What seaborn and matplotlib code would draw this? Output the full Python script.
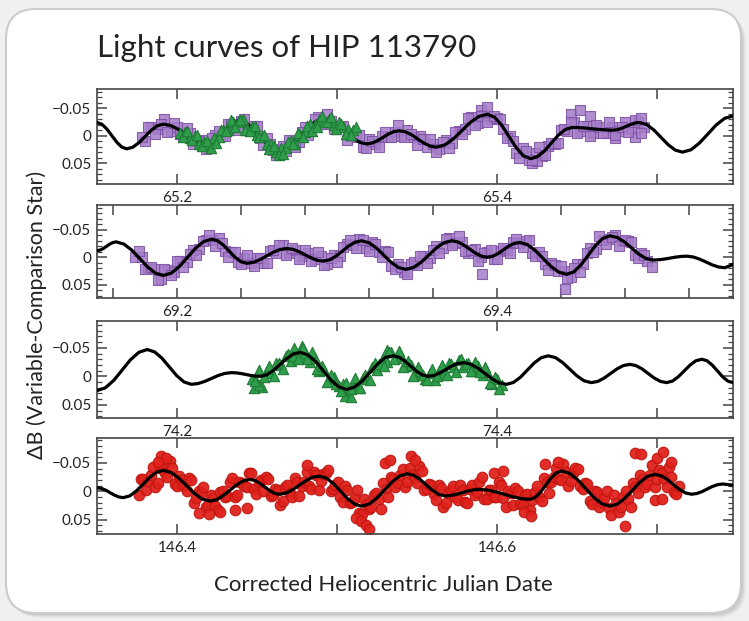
import matplotlib
matplotlib.use("Agg")
import pandas as pd
import matplotlib.pyplot as plt
from matplotlib.patches import FancyBboxPatch
from matplotlib.transforms import IdentityTransform
from matplotlib.ticker import MultipleLocator
import seaborn as sns

# ---------------------------------------------------------------- model fits
fit1_t = [65.150, 65.1531, 65.1562, 65.1593, 65.1624, 65.1655, 65.1686,
          65.1724, 65.1762, 65.1801, 65.1839, 65.1877, 65.1915,
          65.1960, 65.2005, 65.2051, 65.2096, 65.2141, 65.2186,
          65.2220, 65.2254, 65.2288, 65.2322, 65.2356, 65.239,
          65.2432, 65.2473, 65.2515, 65.2557, 65.2598, 65.264,
          65.2686, 65.2732, 65.2778, 65.2823, 65.2869, 65.2915,
          65.2960, 65.3005, 65.3051, 65.3096, 65.3141, 65.3186,
          65.3220, 65.3254, 65.3288, 65.3322, 65.3356, 65.339,
          65.3428, 65.3467, 65.3505, 65.3543, 65.3582, 65.362,
          65.3673, 65.3727, 65.3780, 65.3833, 65.3887, 65.394,
          65.3985, 65.4030, 65.4075, 65.4120, 65.4165, 65.421,
          65.4253, 65.4297, 65.4340, 65.4383, 65.4427, 65.447,
          65.4512, 65.4555, 65.4597, 65.4640, 65.4683, 65.4725,
          65.4752, 65.4780, 65.4808, 65.4835, 65.4863, 65.489,
          65.4935, 65.4980, 65.5025, 65.5070, 65.5115, 65.516,
          65.5213, 65.5265, 65.5318, 65.5370, 65.5423, 65.5475]
fit1_db = [-0.024, -0.0208, -0.012, 0.000, 0.012, 0.0208, 0.024,
           0.021, 0.0128, 0.0015, -0.0098, -0.018, -0.021,
           -0.0186, -0.012, -0.003, 0.006, 0.0126, 0.015,
           0.0122, 0.0045, -0.006, -0.0165, -0.0242, -0.027,
           -0.0234, -0.0135, 0.000, 0.0135, 0.0234, 0.027,
           0.0232, 0.0128, -0.0015, -0.0158, -0.0262, -0.030,
           -0.027, -0.0188, -0.0075, 0.0038, 0.012, 0.015,
           0.0134, 0.009, 0.003, -0.003, -0.0074, -0.009,
           -0.007, -0.0015, 0.006, 0.0135, 0.019, 0.021,
           0.017, 0.006, -0.009, -0.024, -0.035, -0.039,
           -0.0336, -0.0188, 0.0015, 0.0218, 0.0366, 0.042,
           0.0382, 0.0278, 0.0135, -0.0008, -0.0112, -0.015,
           -0.0147, -0.0138, -0.0125, -0.0113, -0.0103, -0.010,
           -0.0109, -0.0135, -0.017, -0.0205, -0.0231, -0.024,
           -0.0204, -0.0105, 0.003, 0.0165, 0.0264, 0.030,
           0.0256, 0.0135, -0.003, -0.0195, -0.0316, -0.036]

fit2_t = [69.150, 69.152, 69.154, 69.156, 69.158, 69.160, 69.162,
          69.1669, 69.1718, 69.1768, 69.1817, 69.1866, 69.1915,
          69.1965, 69.2016, 69.2066, 69.2116, 69.2167, 69.2217,
          69.2254, 69.2290, 69.2327, 69.2363, 69.2400, 69.2436,
          69.2478, 69.2519, 69.2561, 69.2603, 69.2644, 69.2686,
          69.2724, 69.2762, 69.2801, 69.2839, 69.2877, 69.2915,
          69.2955, 69.2995, 69.3035, 69.3074, 69.3114, 69.3154,
          69.3200, 69.3246, 69.3292, 69.3338, 69.3384, 69.343,
          69.3478, 69.3526, 69.3574, 69.3621, 69.3669, 69.3717,
          69.3754, 69.3791, 69.3829, 69.3866, 69.3903, 69.394,
          69.3973, 69.4007, 69.4040, 69.4073, 69.4107, 69.414,
          69.4189, 69.4239, 69.4288, 69.4337, 69.4387, 69.4436,
          69.4481, 69.4526, 69.4571, 69.4616, 69.4661, 69.4706,
          69.4751, 69.4796, 69.4841, 69.4885, 69.4930, 69.4975,
          69.5010, 69.5045, 69.5081, 69.5116, 69.5151, 69.5186,
          69.5226, 69.5266, 69.5306, 69.5345, 69.5385, 69.5425,
          69.5475]
fit2_db = [-0.012, -0.0131, -0.016, -0.020, -0.024, -0.0269, -0.028,
           -0.0239, -0.0128, 0.0025, 0.0178, 0.0289, 0.033,
           0.0286, 0.0165, 0.000, -0.0165, -0.0286, -0.033,
           -0.0301, -0.022, -0.011, 0.000, 0.0081, 0.011,
           0.0092, 0.0043, -0.0025, -0.0093, -0.0142, -0.016,
           -0.0145, -0.0103, -0.0045, 0.0013, 0.0055, 0.007,
           0.0045, -0.0023, -0.0115, -0.0208, -0.0275, -0.030,
           -0.0265, -0.017, -0.004, 0.009, 0.0185, 0.022,
           0.0185, 0.009, -0.004, -0.017, -0.0265, -0.030,
           -0.028, -0.0225, -0.015, -0.0075, -0.002, 0.000,
           -0.0018, -0.0068, -0.0135, -0.0203, -0.0252, -0.027,
           -0.0231, -0.0125, 0.002, 0.0165, 0.0271, 0.031,
           0.0263, 0.0135, -0.004, -0.0215, -0.0343, -0.039,
           -0.0361, -0.028, -0.017, -0.006, 0.0021, 0.005,
           0.0045, 0.0033, 0.0015, -0.0003, -0.0015, -0.002,
           -0.0006, 0.0033, 0.0085, 0.0138, 0.0176, 0.019,
           0.013]

fit3_t = [74.150, 74.1552, 74.1605, 74.1657, 74.1709, 74.1762, 74.1814,
          74.1860, 74.1906, 74.1952, 74.1998, 74.2044, 74.209,
          74.2132, 74.2173, 74.2215, 74.2257, 74.2298, 74.234,
          74.237, 74.240, 74.243, 74.246, 74.249, 74.252,
          74.2562, 74.2603, 74.2645, 74.2687, 74.2728, 74.277,
          74.2818, 74.2867, 74.2915, 74.2963, 74.3012, 74.306,
          74.3108, 74.3157, 74.3205, 74.3253, 74.3302, 74.335,
          74.3387, 74.3423, 74.3460, 74.3497, 74.3533, 74.357,
          74.3607, 74.3643, 74.3680, 74.3717, 74.3753, 74.379,
          74.3835, 74.3880, 74.3925, 74.3970, 74.4015, 74.406,
          74.4103, 74.4147, 74.4190, 74.4233, 74.4277, 74.432,
          74.4365, 74.4410, 74.4455, 74.4500, 74.4545, 74.459,
          74.463, 74.467, 74.471, 74.475, 74.479, 74.483,
          74.4868, 74.4907, 74.4945, 74.4983, 74.5022, 74.506,
          74.5097, 74.5133, 74.5170, 74.5207, 74.5243, 74.528,
          74.5313, 74.5345, 74.5378, 74.5410, 74.5443, 74.5475]
fit3_db = [0.025, 0.0202, 0.007, -0.011, -0.029, -0.0422, -0.047,
           -0.0429, -0.0318, -0.0165, -0.0013, 0.0099, 0.014,
           0.0126, 0.0089, 0.0038, -0.0014, -0.0051, -0.0065,
           -0.0061, -0.0049, -0.0033, -0.0016, -0.0004, 0.000,
           -0.0028, -0.0105, -0.021, -0.0315, -0.0392, -0.042,
           -0.0376, -0.0258, -0.0095, 0.0068, 0.0186, 0.023,
           0.019, 0.0083, -0.0065, -0.0213, -0.033, -0.036,
           -0.0336, -0.027, -0.018, -0.009, -0.0024, 0.000,
           -0.0016, -0.006, -0.012, -0.018, -0.0224, -0.024,
           -0.0215, -0.0145, -0.005, 0.0045, 0.0115, 0.014,
           0.0107, 0.0015, -0.011, -0.0235, -0.0327, -0.036,
           -0.0329, -0.0243, -0.0125, -0.0008, 0.0079, 0.011,
           0.0089, 0.003, -0.005, -0.013, -0.0189, -0.021,
           -0.0189, -0.013, -0.005, 0.003, 0.0089, 0.011,
           0.0083, 0.0008, -0.0095, -0.0198, -0.0273, -0.030,
           -0.0273, -0.0198, -0.0095, 0.0008, 0.0083, 0.011]

fit4_t = [146.350, 146.3527, 146.3555, 146.3582, 146.3609, 146.3637, 146.3664,
          146.3706, 146.3747, 146.3789, 146.3831, 146.3872, 146.3914,
          146.3963, 146.4011, 146.4060, 146.4109, 146.4157, 146.4206,
          146.4248, 146.4289, 146.4331, 146.4373, 146.4414, 146.4456,
          146.4487, 146.4517, 146.4548, 146.4579, 146.4609, 146.464,
          146.4682, 146.4723, 146.4765, 146.4807, 146.4848, 146.489,
          146.4934, 146.4978, 146.5022, 146.5066, 146.5110, 146.5154,
          146.5202, 146.5249, 146.5297, 146.5345, 146.5392, 146.544,
          146.5479, 146.5518, 146.5558, 146.5597, 146.5636, 146.5675,
          146.5711, 146.5747, 146.5783, 146.5818, 146.5854, 146.589,
          146.5943, 146.5995, 146.6048, 146.6101, 146.6153, 146.6206,
          146.6239, 146.6272, 146.6305, 146.6338, 146.6371, 146.6404,
          146.6454, 146.6505, 146.6555, 146.6605, 146.6656, 146.6706,
          146.6753, 146.6799, 146.6846, 146.6893, 146.6939, 146.6986,
          146.7024, 146.7063, 146.7101, 146.7139, 146.7178, 146.7216,
          146.7248, 146.7281, 146.7313, 146.7345, 146.7378, 146.741,
          146.7475]
fit4_db = [-0.0065, -0.0053, -0.0021, 0.0023, 0.0066, 0.0098, 0.011,
           0.0078, -0.001, -0.013, -0.025, -0.0338, -0.037,
           -0.0334, -0.0235, -0.010, 0.0035, 0.0134, 0.017,
           0.0145, 0.0075, -0.002, -0.0115, -0.0185, -0.021,
           -0.0193, -0.0145, -0.008, -0.0015, 0.0033, 0.005,
           0.0029, -0.003, -0.011, -0.019, -0.0249, -0.027,
           -0.0234, -0.0138, -0.0005, 0.0128, 0.0224, 0.026,
           0.0222, 0.0118, -0.0025, -0.0168, -0.0272, -0.031,
           -0.0284, -0.0213, -0.0115, -0.0018, 0.0054, 0.008,
           0.0072, 0.0051, 0.0023, -0.0006, -0.0027, -0.0035,
           -0.0023, 0.0009, 0.0053, 0.0096, 0.0128, 0.014,
           0.0107, 0.0015, -0.011, -0.0235, -0.0327, -0.036,
           -0.0318, -0.0205, -0.005, 0.0105, 0.0218, 0.026,
           0.0222, 0.012, -0.002, -0.016, -0.0262, -0.030,
           -0.0277, -0.0213, -0.0125, -0.0038, 0.0027, 0.005,
           0.0038, 0.0005, -0.004, -0.0085, -0.0118, -0.013,
           -0.011]

# ---------------------------------------------------------- observations
purple1_t = [65.180, 65.184, 65.188, 65.192, 65.196, 65.200, 65.204, 65.208, 65.212, 65.216,
             65.220, 65.224, 65.228, 65.232, 65.236, 65.240, 65.244, 65.248, 65.252, 65.256,
             65.260, 65.264, 65.268, 65.272, 65.276, 65.280, 65.284, 65.288, 65.292, 65.296,
             65.300, 65.304, 65.308, 65.312, 65.316, 65.320, 65.324, 65.328, 65.332, 65.336,
             65.340, 65.344, 65.348, 65.352, 65.356, 65.360, 65.364, 65.368, 65.372, 65.376,
             65.380, 65.384, 65.388, 65.392, 65.396, 65.400, 65.404, 65.408, 65.412, 65.416,
             65.420, 65.424, 65.428, 65.432, 65.436, 65.440, 65.444, 65.448, 65.452, 65.456,
             65.460, 65.464, 65.468, 65.472, 65.476, 65.480, 65.484, 65.488, 65.492,
             65.390, 65.394, 65.422, 65.425, 65.446, 65.452, 65.458, 65.474, 65.486, 65.490, 65.178]
purple1_db = [0.009, -0.016, -0.013, -0.030, -0.009, -0.015, 0.000, -0.004, 0.009, 0.008,
              0.022, -0.001, 0.001, -0.021, -0.016, -0.026, -0.011, -0.017, 0.004, 0.005,
              0.026, 0.024, 0.028, 0.010, 0.011, -0.015, -0.015, -0.034, -0.021, -0.026,
              -0.015, -0.017, 0.001, 0.003, 0.021, 0.006, 0.015, 0.000, 0.003, -0.007,
              0.000, -0.010, 0.003, 0.000, 0.020, 0.016, 0.025, 0.008, 0.014, -0.009,
              -0.012, -0.034, -0.023, -0.038, -0.030, -0.033, -0.013, 0.000, 0.031, 0.023,
              0.044, 0.032, 0.037, 0.019, 0.015, -0.010, -0.008, -0.024, -0.009, -0.017,
              -0.005, -0.016, -0.004, -0.016, -0.009, -0.025, -0.013, -0.025, -0.015,
              -0.047, -0.052, 0.050, 0.046, -0.040, -0.046, -0.036, 0.004, 0.002, -0.004, 0.002]
purple1b_t = [65.182, 65.186, 65.190, 65.194, 65.198, 65.202, 65.206, 65.210, 65.214, 65.218,
              65.222, 65.226, 65.230, 65.234, 65.238, 65.242, 65.246, 65.250, 65.254, 65.258,
              65.262, 65.266, 65.270, 65.274, 65.278, 65.282, 65.286, 65.290, 65.294, 65.298,
              65.302, 65.306, 65.310, 65.314, 65.318, 65.322, 65.326, 65.330, 65.334, 65.338,
              65.342, 65.346, 65.350, 65.354, 65.358, 65.362, 65.366, 65.370, 65.374, 65.378,
              65.382, 65.386, 65.390, 65.394, 65.398, 65.402, 65.406, 65.410, 65.414, 65.418,
              65.422, 65.426, 65.430, 65.434, 65.438, 65.442, 65.446, 65.450, 65.454, 65.458,
              65.462, 65.466, 65.470, 65.474, 65.478, 65.482, 65.486, 65.490]
purple1b_db = [-0.015, -0.003, -0.021, -0.006, -0.023, -0.003, -0.014, 0.015, 0.009, 0.025,
               0.004, -0.009, 0.000, -0.022, -0.011, -0.030, -0.009, -0.018, 0.017, 0.016,
               0.036, 0.018, 0.007, 0.020, -0.006, -0.001, -0.030, -0.021, -0.040, -0.013,
               -0.016, 0.007, -0.003, -0.002, 0.023, 0.009, 0.021, -0.007, 0.002, -0.020,
               0.003, -0.003, 0.017, 0.006, 0.006, 0.029, 0.012, 0.023, -0.006, -0.003,
               -0.033, -0.019, -0.035, -0.024, -0.036, -0.031, 0.005, 0.010, 0.040, 0.028,
               0.045, 0.021, 0.035, 0.013, 0.014, -0.013, -0.024, -0.005, -0.017, 0.000,
               -0.020, -0.005, -0.024, -0.002, -0.015, -0.007, -0.028, -0.032]

green1_t = [65.202, 65.205, 65.208, 65.211, 65.214, 65.217, 65.220, 65.223, 65.226, 65.229,
            65.232, 65.235, 65.238, 65.241, 65.244, 65.247, 65.250, 65.253, 65.256, 65.259,
            65.262, 65.265, 65.268, 65.271, 65.274, 65.277, 65.280, 65.283, 65.286, 65.289,
            65.292, 65.295, 65.298, 65.301, 65.304, 65.307, 65.310, 65.312]
green1_db = [-0.004, -0.007, 0.005, 0.001, 0.016, 0.012, 0.016, 0.004, 0.003, -0.010,
             -0.011, -0.025, -0.024, -0.030, -0.013, -0.016, -0.002, 0.000, 0.015, 0.016,
             0.029, 0.022, 0.023, 0.010, 0.016, -0.001, -0.006, -0.022, -0.020, -0.029,
             -0.024, -0.030, -0.020, -0.024, -0.016, -0.012, -0.010, -0.015]
green1b_t = [65.2035, 65.2065, 65.2095, 65.2125, 65.2155, 65.2185, 65.2215, 65.2245, 65.2275, 65.2305,
             65.2335, 65.2365, 65.2395, 65.2425, 65.2455, 65.2485, 65.2515, 65.2545, 65.2575, 65.2605,
             65.2635, 65.2665, 65.2695, 65.2725, 65.2755, 65.2785, 65.2815, 65.2845, 65.2875, 65.2905,
             65.2935, 65.2965, 65.2995, 65.3025, 65.3055, 65.3085]
green1b_db = [0.003, -0.008, 0.008, -0.002, 0.019, 0.009, 0.022, 0.014, -0.011, -0.009,
              -0.029, -0.016, -0.029, -0.011, -0.008, -0.017, 0.003, -0.001, 0.024, 0.018,
              0.036, 0.033, 0.011, 0.016, -0.005, 0.003, -0.017, -0.008, -0.015, -0.036,
              -0.024, -0.034, -0.013, -0.022, -0.003, -0.001]

purple2_t = [69.174, 69.178, 69.182, 69.186, 69.190, 69.194, 69.198, 69.202, 69.206, 69.210,
             69.214, 69.218, 69.222, 69.226, 69.230, 69.234, 69.238, 69.242, 69.246, 69.250,
             69.254, 69.258, 69.262, 69.266, 69.270, 69.274, 69.278, 69.282, 69.286, 69.290,
             69.294, 69.298, 69.302, 69.306, 69.310, 69.314, 69.318, 69.322, 69.326, 69.330,
             69.334, 69.338, 69.342, 69.346, 69.350, 69.354, 69.358, 69.362, 69.366, 69.370,
             69.374, 69.378, 69.382, 69.386, 69.390, 69.394, 69.398, 69.402, 69.406, 69.410,
             69.414, 69.418, 69.422, 69.426, 69.430, 69.434, 69.438, 69.442, 69.446, 69.450,
             69.454, 69.458, 69.462, 69.466, 69.470, 69.474, 69.478, 69.482, 69.486, 69.490,
             69.494, 69.3904, 69.4425, 69.497]
purple2_db = [0.000, -0.001, 0.020, 0.021, 0.040, 0.023, 0.026, 0.006, 0.009, -0.013,
              -0.015, -0.032, -0.032, -0.035, -0.011, -0.010, 0.009, 0.002, 0.011, 0.002,
              0.010, -0.012, -0.007, -0.023, -0.008, -0.014, -0.003, -0.007, 0.004, -0.002,
              0.012, -0.004, -0.002, -0.025, -0.022, -0.033, -0.017, -0.027, -0.009, -0.011,
              0.016, 0.013, 0.026, 0.013, 0.014, -0.003, 0.002, -0.020, -0.016, -0.035,
              -0.026, -0.028, -0.008, -0.015, 0.000, -0.009, 0.003, -0.012, -0.013, -0.028,
              -0.026, -0.029, -0.007, -0.009, 0.012, 0.010, 0.025, 0.025, 0.035, 0.013,
              0.012, -0.017, -0.015, -0.032, -0.033, -0.040, -0.029, -0.030, -0.004, -0.007,
              0.007, 0.031, 0.058, 0.018]
purple2b_t = [69.176, 69.180, 69.184, 69.188, 69.192, 69.196, 69.200, 69.204, 69.208, 69.212,
              69.216, 69.220, 69.224, 69.228, 69.232, 69.236, 69.240, 69.244, 69.248, 69.252,
              69.256, 69.260, 69.264, 69.268, 69.272, 69.276, 69.280, 69.284, 69.288, 69.292,
              69.296, 69.300, 69.304, 69.308, 69.312, 69.316, 69.320, 69.324, 69.328, 69.332,
              69.336, 69.340, 69.344, 69.348, 69.352, 69.356, 69.360, 69.364, 69.368, 69.372,
              69.376, 69.380, 69.384, 69.388, 69.392, 69.396, 69.400, 69.404, 69.408, 69.412,
              69.416, 69.420, 69.424, 69.428, 69.432, 69.436, 69.440, 69.444, 69.448, 69.452,
              69.456, 69.460, 69.464, 69.468, 69.472, 69.476, 69.480, 69.484, 69.488, 69.492]
purple2b_db = [-0.011, 0.022, 0.018, 0.041, 0.022, 0.032, 0.006, 0.018, -0.006, -0.004,
               -0.030, -0.041, -0.020, -0.026, 0.000, -0.010, 0.012, -0.004, 0.016, 0.002,
               0.010, -0.014, -0.023, -0.005, -0.017, 0.003, -0.013, 0.007, -0.009, 0.014,
               0.001, 0.008, -0.019, -0.032, -0.016, -0.031, -0.011, -0.025, -0.001, -0.009,
               0.021, 0.017, 0.031, 0.009, -0.002, 0.010, -0.014, -0.007, -0.033, -0.022,
               -0.039, -0.011, -0.014, 0.006, -0.008, -0.013, 0.003, -0.017, -0.007, -0.033,
               -0.018, -0.031, -0.002, -0.002, 0.023, 0.014, 0.015, 0.038, 0.020, 0.026,
               -0.008, -0.009, -0.039, -0.025, -0.037, -0.020, -0.032, -0.028, 0.002, -0.005]

green3_t = [74.247, 74.250, 74.253, 74.256, 74.259, 74.262, 74.265, 74.268, 74.271, 74.274,
            74.277, 74.280, 74.283, 74.286, 74.289, 74.292, 74.295, 74.298, 74.301, 74.304,
            74.307, 74.310, 74.313, 74.316, 74.319, 74.322, 74.325, 74.328, 74.331, 74.334,
            74.337, 74.340, 74.343, 74.346, 74.349, 74.352, 74.355, 74.358, 74.361, 74.364,
            74.367, 74.370, 74.373, 74.376, 74.379, 74.382, 74.385, 74.388, 74.391, 74.394,
            74.397, 74.400, 74.403,
            74.273, 74.278, 74.305, 74.309, 74.331, 74.248, 74.251]
green3_db = [0.005, 0.012, 0.018, -0.008, -0.005, -0.023, -0.020, -0.036, -0.027, -0.040,
             -0.034, -0.041, -0.026, -0.032, -0.009, -0.011, 0.006, 0.002, 0.017, 0.014,
             0.029, 0.015, 0.020, 0.003, 0.004, -0.016, -0.011, -0.028, -0.026, -0.043,
             -0.032, -0.036, -0.018, -0.020, -0.003, -0.010, 0.004, -0.006, 0.006, -0.009,
             -0.006, -0.023, -0.017, -0.028, -0.017, -0.023, -0.010, -0.018, -0.002, -0.007,
             0.014, 0.005, 0.015,
             -0.050, -0.053, 0.034, 0.037, -0.046, 0.020, 0.016]
green3b_t = [74.2485, 74.2515, 74.2545, 74.2575, 74.2605, 74.2635, 74.2665, 74.2695, 74.2725, 74.2755,
             74.2785, 74.2815, 74.2845, 74.2875, 74.2905, 74.2935, 74.2965, 74.2995, 74.3025, 74.3055,
             74.3085, 74.3115, 74.3145, 74.3175, 74.3205, 74.3235, 74.3265, 74.3295, 74.3325, 74.3355,
             74.3385, 74.3415, 74.3445, 74.3475, 74.3505, 74.3535, 74.3565, 74.3595, 74.3625, 74.3655,
             74.3685, 74.3715, 74.3745, 74.3775, 74.3805, 74.3835, 74.3865, 74.3895, 74.3925, 74.3955,
             74.3985, 74.4015]
green3b_db = [0.008, -0.011, 0.001, -0.019, -0.001, -0.024, -0.013, -0.040, -0.035, -0.031,
              -0.050, -0.031, -0.042, -0.012, -0.018, 0.010, -0.002, 0.013, 0.026, 0.011,
              0.023, 0.003, 0.021, -0.002, 0.007, -0.024, -0.022, -0.019, -0.042, -0.030,
              -0.044, -0.017, -0.027, -0.001, -0.016, -0.003, 0.007, -0.012, -0.001, -0.020,
              -0.002, -0.022, -0.007, -0.031, -0.021, -0.010, -0.026, -0.007, -0.017, 0.012,
              0.001, 0.022]

red4_t = [146.3760, 146.3775, 146.3790, 146.3805, 146.3820, 146.3835, 146.3850, 146.3865, 146.3880, 146.3895,
          146.3910, 146.3925, 146.3940, 146.3955, 146.3970, 146.3985, 146.4000, 146.4015, 146.4030, 146.4045,
          146.4060, 146.4075, 146.4090, 146.4105, 146.4120, 146.4135, 146.4150, 146.4165, 146.4180, 146.4195,
          146.4210, 146.4225, 146.4240, 146.4255, 146.4270, 146.4285, 146.4300, 146.4315, 146.4330, 146.4345,
          146.4360, 146.4375, 146.4390, 146.4405, 146.4420, 146.4435, 146.4450, 146.4465, 146.4480, 146.4495,
          146.4510, 146.4525, 146.4540, 146.4555, 146.4570, 146.4585, 146.4600, 146.4615, 146.4630, 146.4645,
          146.4660, 146.4675, 146.4690, 146.4705, 146.4720, 146.4735, 146.4750, 146.4765, 146.4780, 146.4795,
          146.4810, 146.4825, 146.4840, 146.4855, 146.4870, 146.4885, 146.4900, 146.4915, 146.4930, 146.4945,
          146.4960, 146.4975, 146.4990, 146.5005, 146.5020, 146.5035, 146.5050, 146.5065, 146.5080, 146.5095,
          146.5110, 146.5125, 146.5140, 146.5155, 146.5170, 146.5185, 146.5200, 146.5215, 146.5230, 146.5245,
          146.5260, 146.5275, 146.5290, 146.5305, 146.5320, 146.5335, 146.5350, 146.5365, 146.5380, 146.5395,
          146.5410, 146.5425, 146.5440, 146.5455, 146.5470, 146.5485, 146.5500, 146.5515, 146.5530, 146.5545,
          146.5560, 146.5575, 146.5590, 146.5605, 146.5620, 146.5635, 146.5650, 146.5665, 146.5680, 146.5695,
          146.5710, 146.5725, 146.5740, 146.5755, 146.5770, 146.5785, 146.5800, 146.5815, 146.5830, 146.5845,
          146.5860, 146.5875, 146.5890, 146.5905, 146.5920, 146.5935, 146.5950, 146.5965, 146.5980, 146.5995,
          146.6010, 146.6025, 146.6040, 146.6055, 146.6070, 146.6085, 146.6100, 146.6115, 146.6130, 146.6145,
          146.6160, 146.6175, 146.6190, 146.6205, 146.6220, 146.6235, 146.6250, 146.6265, 146.6280, 146.6295,
          146.6310, 146.6325, 146.6340, 146.6355, 146.6370, 146.6385, 146.6400, 146.6415, 146.6430, 146.6445,
          146.6460, 146.6475, 146.6490, 146.6505, 146.6520, 146.6535, 146.6550, 146.6565, 146.6580, 146.6595,
          146.6610, 146.6625, 146.6640, 146.6655, 146.6670, 146.6685, 146.6700, 146.6715, 146.6730, 146.6745,
          146.6760, 146.6775, 146.6790, 146.6805, 146.6820, 146.6835, 146.6850, 146.6865, 146.6880, 146.6895,
          146.6910, 146.6925, 146.6940, 146.6955, 146.6970, 146.6985, 146.7000, 146.7015, 146.7030, 146.7045,
          146.7060, 146.7075, 146.7090, 146.7105, 146.7120, 146.7135]
red4_db = [0.007, -0.021, -0.022, -0.002, -0.018, -0.028, -0.043, -0.008, -0.014, -0.042,
           -0.040, -0.033, -0.025, -0.054, -0.041, -0.013, -0.010, -0.027, -0.020, -0.009,
           0.000, -0.023, -0.020, 0.020, 0.011, 0.000, 0.002, -0.007, 0.027, 0.024,
           0.006, 0.011, 0.025, 0.033, 0.001, 0.000, 0.009, 0.008, -0.017, -0.023,
           0.009, 0.007, -0.017, -0.015, -0.009, -0.008, -0.032, -0.033, -0.004, 0.004,
           -0.017, -0.020, 0.000, -0.026, -0.021, 0.008, 0.007, -0.005, -0.003, 0.024,
           0.017, -0.007, -0.011, 0.003, 0.009, -0.024, -0.017, 0.008, -0.010, -0.016,
           -0.034, -0.010, -0.004, -0.035, -0.029, -0.003, -0.018, -0.031, -0.033, -0.037,
           -0.001, -0.005, -0.012, -0.016, 0.009, 0.019, -0.010, -0.002, 0.021, 0.018,
           0.012, -0.002, 0.038, 0.040, 0.013, 0.022, 0.031, 0.028, 0.006, 0.002,
           0.013, 0.031, -0.015, -0.005, 0.009, -0.025, -0.022, -0.007, -0.014, -0.028,
           -0.039, -0.007, -0.016, -0.041, -0.029, -0.024, -0.014, -0.045, -0.036, -0.002,
           -0.005, -0.013, -0.011, 0.005, 0.015, -0.012, -0.006, 0.027, 0.020, 0.003,
           -0.002, -0.009, 0.009, 0.016, -0.012, -0.003, 0.019, 0.021, -0.005, -0.011,
           0.006, 0.001, -0.016, -0.025, 0.013, 0.014, -0.003, -0.003, 0.010, 0.009,
           -0.016, -0.011, 0.011, 0.027, 0.000, 0.002, 0.024, -0.006, 0.000, 0.022,
           0.024, 0.006, 0.004, 0.033, 0.015, 0.001, -0.009, 0.009, 0.017, -0.023,
           -0.017, 0.003, -0.016, -0.026, -0.042, -0.021, -0.020, -0.048, -0.034, -0.010,
           -0.018, -0.033, -0.041, -0.039, -0.010, -0.005, -0.014, -0.013, 0.017, 0.023,
           0.000, 0.001, 0.028, 0.019, 0.011, -0.001, 0.029, 0.041, 0.007, 0.020,
           0.036, 0.027, 0.009, 0.000, 0.014, 0.028, -0.015, -0.008, 0.003, -0.028,
           -0.021, -0.008, -0.013, -0.029, -0.046, -0.008, -0.022, -0.038, -0.032, -0.022,
           -0.008, -0.043, -0.026, 0.001, 0.004, -0.010]
red4_wide_t = [146.390, 146.393, 146.388, 146.414, 146.420, 146.427, 146.436, 146.444, 146.481, 146.512,
               146.515, 146.518, 146.520, 146.530, 146.533, 146.546, 146.549, 146.598, 146.604, 146.617,
               146.621, 146.630, 146.638, 146.680, 146.686, 146.690, 146.700, 146.704, 146.709, 146.699,
               146.703]
red4_wide_db = [-0.062, -0.058, -0.052, 0.038, 0.040, 0.036, 0.033, 0.030, -0.047, 0.047,
                0.052, 0.060, 0.066, -0.050, -0.055, -0.062, -0.055, -0.033, -0.036, 0.037,
                0.043, -0.048, -0.052, 0.061, -0.068, -0.066, -0.058, -0.069, -0.052, 0.015,
                0.014]

# ------------------------------------------------------------ axis texts
title_text = "Light curves of HIP 113790"
x_title = "Corrected Heliocentric Julian Date"
y_title = "\u0394B (Variable-Comparison Star)"
y_ticks = [-0.05, 0.0, 0.05]
y_ticklabels = ["\u22120.05", "0", "0.05"]
x_ticks = [
    [65.2, 65.3, 65.4, 65.5],
    [69.16, 69.2, 69.24, 69.28, 69.32, 69.36, 69.4, 69.44, 69.48, 69.52],
    [74.2, 74.3, 74.4, 74.5],
    [146.4, 146.5, 146.6, 146.7],
]
x_ticklabels = [
    ["65.2", "", "65.4", ""],
    ["", "69.2", "", "", "", "", "69.4", "", "", ""],
    ["74.2", "", "74.4", ""],
    ["146.4", "", "146.6", ""],
]

# ------------------------------------------------------------------- style
sns.set_theme(style="ticks")
plt.rcParams["font.family"] = ["Lato", "DejaVu Sans"]
INK = "#222222"
PURPLE_FACE, PURPLE_EDGE = "#a57cc8", "#7a4fa3"
GREEN_FACE, GREEN_EDGE = "#2f9e4b", "#1f7a36"
RED_FACE, RED_EDGE = "#e0221d", "#c0150f"

fig = plt.figure(figsize=(7.49, 6.21), dpi=100)
fig.patch.set_facecolor("#f0f0f0")

# rounded card with a soft shadow (display pixel coordinates)
for off, alpha in [(5, 0.06), (4, 0.08), (3, 0.10), (2, 0.12)]:
    fig.add_artist(FancyBboxPatch((6 + off, 8 - off), 735, 604,
                                  boxstyle="round,pad=0,rounding_size=30",
                                  transform=IdentityTransform(), facecolor="#7a7a7a",
                                  edgecolor="none", alpha=alpha, zorder=-20))
fig.add_artist(FancyBboxPatch((6, 8), 735, 604, boxstyle="round,pad=0,rounding_size=30",
                              transform=IdentityTransform(), facecolor="white",
                              edgecolor="#cccccc", linewidth=1.5, zorder=-10))

rects = [(0.1295, 0.7037, 0.8491, 0.1530),
         (0.1295, 0.5201, 0.8491, 0.1498),
         (0.1295, 0.3269, 0.8491, 0.1562),
         (0.1295, 0.1401, 0.8491, 0.1546)]
xlims = [(65.150, 65.5475), (69.150, 69.5475), (74.150, 74.5475), (146.350, 146.7475)]
ylims = [(0.088, -0.085), (0.074, -0.095), (0.073, -0.097), (0.075, -0.094)]
fits = [(fit1_t, fit1_db), (fit2_t, fit2_db), (fit3_t, fit3_db), (fit4_t, fit4_db)]

axes = [fig.add_axes(r) for r in rects]


def draw_points(ax, t, db, marker, size, face, edge, z, alpha=1.0):
    df = pd.DataFrame({"t": t, "db": db})
    sns.scatterplot(data=df, x="t", y="db", ax=ax, marker=marker, s=size,
                    color=face, edgecolor=edge, linewidth=0.8, alpha=alpha,
                    zorder=z, legend=False)


def draw_fit(ax, t, db):
    df = pd.DataFrame({"t": t, "db": db})
    sns.lineplot(data=df, x="t", y="db", ax=ax, color="black", linewidth=2.3,
                 sort=False, estimator=None, zorder=4, legend=False,
                 solid_joinstyle="round", solid_capstyle="round")


# panel 1: purple squares, fit, green triangles on top
draw_points(axes[0], purple1_t + purple1b_t, purple1_db + purple1b_db,
            "s", 44, PURPLE_FACE, PURPLE_EDGE, 2, 0.85)
draw_fit(axes[0], *fits[0])
draw_points(axes[0], green1_t + green1b_t, green1_db + green1b_db,
            "^", 55, GREEN_FACE, GREEN_EDGE, 5)
# panel 2: purple squares
draw_points(axes[1], purple2_t + purple2b_t, purple2_db + purple2b_db,
            "s", 44, PURPLE_FACE, PURPLE_EDGE, 2, 0.85)
draw_fit(axes[1], *fits[1])
# panel 3: green triangles
draw_points(axes[2], green3_t + green3b_t, green3_db + green3b_db,
            "^", 55, GREEN_FACE, GREEN_EDGE, 2)
draw_fit(axes[2], *fits[2])
# panel 4: red circles
draw_points(axes[3], red4_t + red4_wide_t, red4_db + red4_wide_db,
            "o", 58, RED_FACE, RED_EDGE, 2, 0.95)
draw_fit(axes[3], *fits[3])

for i, ax in enumerate(axes):
    ax.set_facecolor("white")
    ax.set_xlim(*xlims[i])
    ax.set_ylim(*ylims[i])
    ax.set_xlabel("")
    ax.set_ylabel("")
    ax.set_xticks(x_ticks[i])
    ax.set_xticklabels(x_ticklabels[i])
    ax.set_yticks(y_ticks)
    ax.set_yticklabels(y_ticklabels)
    ax.yaxis.set_minor_locator(MultipleLocator(0.01))
    ax.tick_params(axis="both", which="both", direction="in", top=True, right=True,
                   color="#444444", labelcolor=INK)
    ax.tick_params(axis="both", which="major", length=7, width=1.1, labelsize=11)
    ax.tick_params(axis="y", which="major", pad=4)
    ax.tick_params(axis="x", which="major", pad=5)
    ax.tick_params(axis="y", which="minor", length=3.5, width=0.9)
    for sp in ax.spines.values():
        sp.set_color("#444444")
        sp.set_linewidth(1.2)

fig.text(0.1295, 0.908, title_text, fontsize=22.5, color=INK, ha="left", va="baseline")
fig.text(0.512, 0.058, x_title, fontsize=16, color=INK, ha="center", va="center")
fig.text(0.049, 0.493, y_title, fontsize=15.5, color=INK, ha="center", va="center",
         rotation=90)

fig.savefig("out.png", dpi=100, facecolor=fig.get_facecolor())
